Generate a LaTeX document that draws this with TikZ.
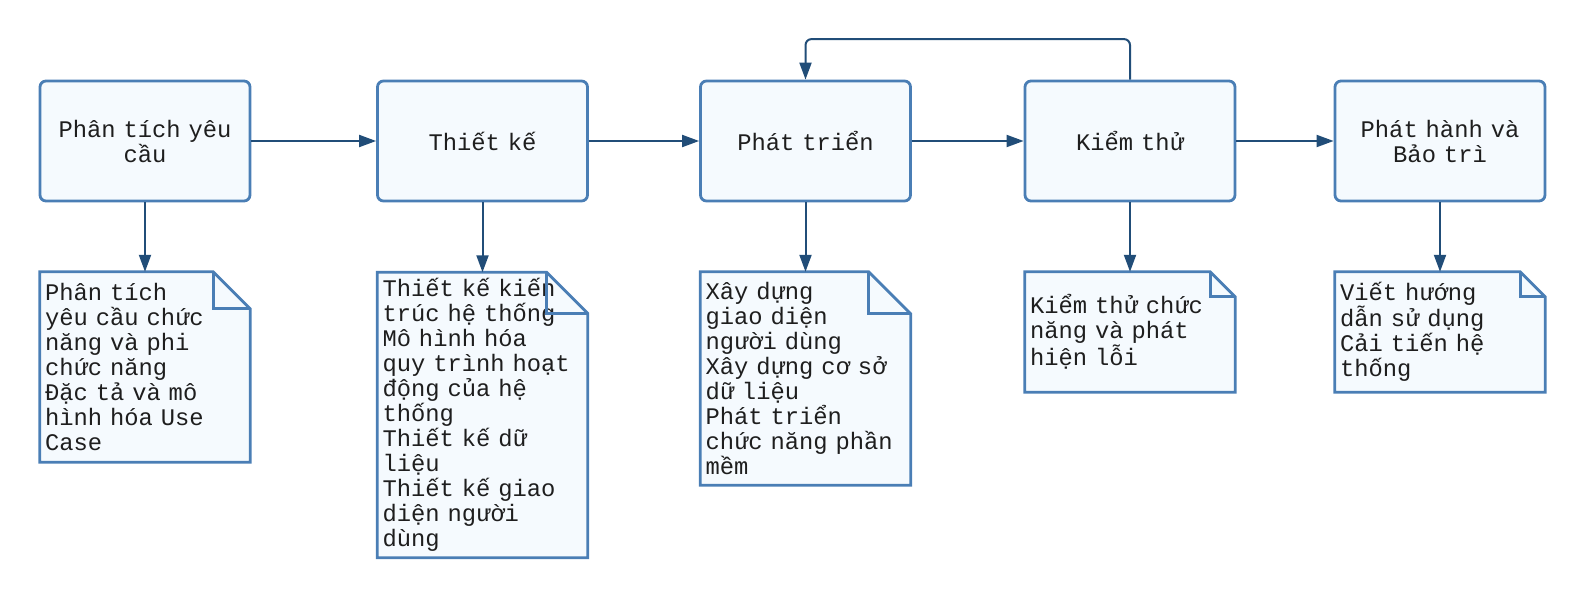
\documentclass[tikz,border=0pt]{standalone}
\usepackage{fontspec}
\newfontfamily\diagmono{Liberation Mono}
\usetikzlibrary{arrows.meta,calc}
\definecolor{bord}{HTML}{4A7EB5}
\definecolor{arr}{HTML}{214D78}
\definecolor{fillc}{HTML}{F5FAFE}
\definecolor{txt}{HTML}{1E1E1E}
\pgfdeclarelayer{background}
\pgfsetlayers{background,main}
\newcommand{\drawnote}[2]{%
  \begin{pgfonlayer}{background}
  \draw[bord, line width=2.8pt, line join=miter, fill=fillc]
    (#1.north west) -- ($(#1.north east)+(-#2,0)$) -- ($(#1.north east)+(0,#2)$)
    -- (#1.south east) -- (#1.south west) -- cycle;
  \end{pgfonlayer}
  \draw[bord, line width=2.8pt, line join=miter]
    ($(#1.north east)+(-#2,0)$) |- ($(#1.north east)+(0,#2)$);
}
\begin{document}
\begin{tikzpicture}[x=1pt,y=-1pt,
  txtfont/.style={font=\diagmono\fontsize{23.8}{25}\selectfont, text=txt},
  proc/.style={txtfont, draw=bord, line width=2.8pt, fill=fillc, rounded corners=6pt,
    minimum width=210pt, minimum height=120pt, text width=200pt, align=center, inner sep=5pt},
  note/.style={txtfont, minimum width=210pt, text width=200pt, align=left, inner sep=5pt},
  conn/.style={draw=arr, line width=2pt, -{Triangle[length=17pt,width=12pt]}}
]
\useasboundingbox (0,0) rectangle (1587,600);

\node[proc] (b1) at (145,141) {Phân tích yêu\\cầu};
\node[proc] (b2) at (482.5,141) {Thiết kế};
\node[proc] (b3) at (805.5,141) {Phát triển};
\node[proc] (b4) at (1130,141) {Kiểm thử};
\node[proc] (b5) at (1440,141) {Phát hành và\\Bảo trì};

\node[note, minimum height=190pt] (n1) at (145,367) {Phân tích\\yêu cầu chức\\năng và phi\\chức năng\\Đặc tả và mô\\hình hóa Use\\Case};
\node[note, minimum height=285pt] (n2) at (482.5,415) {Thiết kế kiến\\trúc hệ thống\\Mô hình hóa\\quy trình hoạt\\động của hệ\\thống\\Thiết kế dữ\\liệu\\Thiết kế giao\\diện người\\dùng};
\node[note, minimum height=213pt] (n3) at (805.5,378.5) {Xây dựng\\giao diện\\người dùng\\Xây dựng cơ sở\\dữ liệu\\Phát triển\\chức năng phần\\mềm};
\node[note, minimum height=120pt] (n4) at (1130,332) {Kiểm thử chức\\năng và phát\\hiện lỗi};
\node[note, minimum height=120pt] (n5) at (1440,332) {Viết hướng\\dẫn sử dụng\\Cải tiến hệ\\thống};

\drawnote{n1}{37}
\drawnote{n2}{41}
\drawnote{n3}{42}
\drawnote{n4}{25}
\drawnote{n5}{25}

\draw[conn] (b1.east) -- (b2.west);
\draw[conn] (b2.east) -- (b3.west);
\draw[conn] (b3.east) -- (b4.west);
\draw[conn] (b4.east) -- (b5.west);

\draw[conn] (b1.south) -- (n1.north);
\draw[conn] (b2.south) -- (n2.north);
\draw[conn] (b3.south) -- (n3.north);
\draw[conn] (b4.south) -- (n4.north);
\draw[conn] (b5.south) -- (n5.north);

\draw[conn, rounded corners=6pt] (b4.north) -- ++(0,-40.5) -| (b3.north);
\end{tikzpicture}
\end{document}
